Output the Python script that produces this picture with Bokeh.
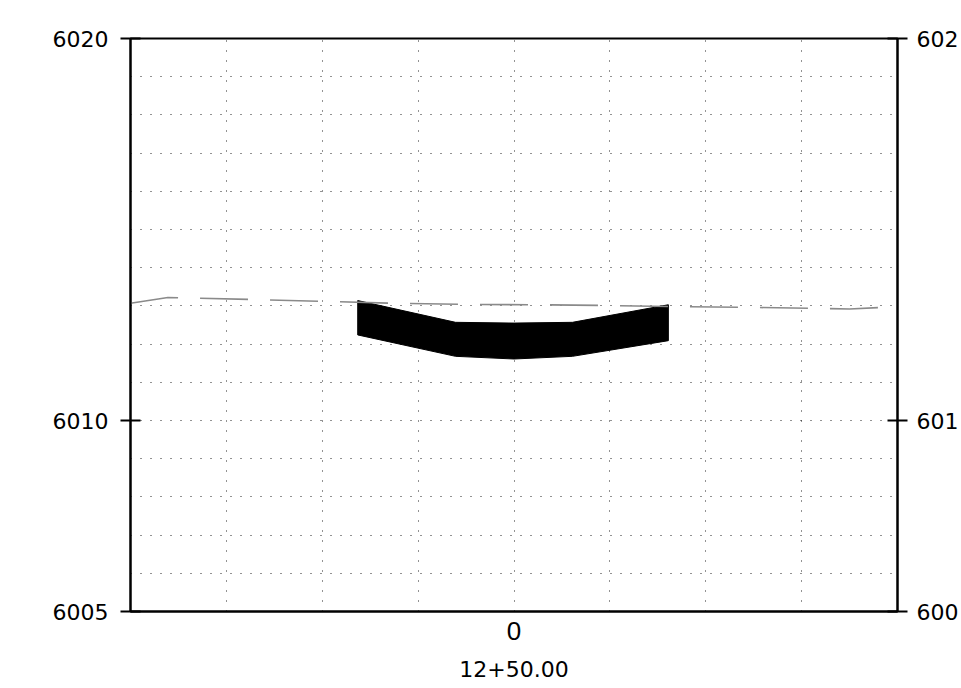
from bokeh.plotting import figure
from bokeh.models import Range1d, LinearAxis, FixedTicker
from bokeh.embed import file_html
from bokeh.resources import INLINE

# ---- data ----
y_ticks = [6005, 6010, 6020]
y_tick_labels = {6005: "6005", 6010: "6010", 6020: "6020"}
right_tick_labels = {6005: "600", 6010: "601", 6020: "602"}
x_ticks = [0]
x_tick_labels = {0: "0"}
station_label = "12+50.00"
x_grid = [-30, -20, -10, 0, 10, 20, 30]
y_grid = list(range(6006, 6020))

ground_x = [-40, -36.1, -27.5, -12.6, -5.1, 2.5, 9.8, 17.3, 24.9, 35.0, 40]
ground_y = [6013.07, 6013.22, 6013.17, 6013.07, 6013.04, 6013.03, 6013.01,
            6012.98, 6012.96, 6012.92, 6012.98]

band_x = [-16.3, -6.1, 0, 6.1, 16.1]
band_top = [6013.14, 6012.57, 6012.55, 6012.57, 6013.03]
band_bottom = [6012.24, 6011.68, 6011.61, 6011.68, 6012.09]

FONT = "DejaVu Sans"

p = figure(width=961, height=688, output_backend="svg", toolbar_location=None,
           x_range=Range1d(-40, 40), y_range=Range1d(6005, 6020),
           min_border_left=130, min_border_right=64, min_border_top=38,
           min_border_bottom=77)
p.background_fill_color = "white"
p.border_fill_color = "white"
p.outline_line_color = "black"
p.outline_line_width = 2

# grids
p.xgrid.ticker = FixedTicker(ticks=x_grid)
p.ygrid.ticker = FixedTicker(ticks=y_grid)
for g in (p.xgrid, p.ygrid):
    g.grid_line_color = "black"
    g.grid_line_alpha = 0.85
    g.grid_line_width = 1
    g.grid_line_dash = "1 9"

# left axis
ya = p.yaxis[0]
ya.ticker = FixedTicker(ticks=y_ticks)
ya.major_label_overrides = y_tick_labels
ya.minor_tick_line_color = None
ya.major_tick_in = 10
ya.major_tick_out = 10
ya.major_tick_line_width = 2
ya.axis_line_width = 2
ya.major_label_standoff = 12
ya.major_label_text_font = FONT
ya.major_label_text_font_size = "22px"
ya.major_label_text_color = "black"

# right axis
ra = LinearAxis(ticker=FixedTicker(ticks=y_ticks))
ra.major_label_overrides = right_tick_labels
ra.minor_tick_line_color = None
ra.major_tick_in = 10
ra.major_tick_out = 10
ra.major_tick_line_width = 2
ra.axis_line_width = 2
ra.major_label_standoff = 9
ra.major_label_text_font = FONT
ra.major_label_text_font_size = "22px"
ra.major_label_text_color = "black"
p.add_layout(ra, "right")

# bottom axis
xa = p.xaxis[0]
xa.ticker = FixedTicker(ticks=x_ticks)
xa.major_label_overrides = x_tick_labels
xa.minor_tick_line_color = None
xa.major_tick_line_color = None
xa.major_tick_in = 0
xa.major_tick_out = 0
xa.axis_line_width = 2
xa.major_label_standoff = 10
xa.major_label_text_font = "Liberation Sans"
xa.major_label_text_font_size = "26px"
xa.major_label_text_color = "black"
xa.axis_label = station_label
xa.axis_label_text_font = FONT
xa.axis_label_text_font_size = "22px"
xa.axis_label_text_font_style = "normal"
xa.axis_label_text_color = "black"
xa.axis_label_standoff = 18

# pavement band
px = band_x + band_x[::-1]
py = band_top + band_bottom[::-1]
p.patch(px, py, fill_color="black", line_color="black", line_width=1)

# ground line
p.line(ground_x, ground_y, line_color="#8a8a8a", line_width=1.6,
       line_dash="48 22")

open("out.html", "w").write(file_html(p, INLINE))
